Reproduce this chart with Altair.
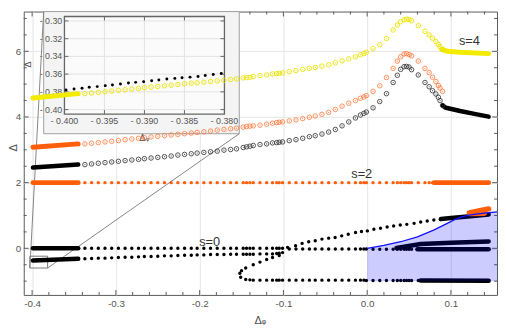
import altair as alt
import pandas as pd

# ---------------- data ----------------
# open-circle branches (x grid shared by the three excited curves)
X_OPEN = [-0.337, -0.329, -0.321, -0.313, -0.305, -0.297, -0.289, -0.281, -0.273, -0.266,
          -0.258, -0.250, -0.242, -0.234, -0.226, -0.218, -0.210, -0.203, -0.195, -0.187,
          -0.179, -0.171, -0.163, -0.156, -0.148, -0.144, -0.140, -0.136, -0.128, -0.120,
          -0.113, -0.108, -0.105, -0.101, -0.093, -0.085, -0.077, -0.069, -0.062, -0.054,
          -0.046, -0.038, -0.030, -0.022, -0.014, -0.008, -0.004, -0.001, 0.007, 0.015,
          0.023, 0.031, 0.036, 0.040, 0.044, 0.047, 0.050, 0.053, 0.061, 0.069,
          0.074, 0.078, 0.082, 0.085, 0.087, 0.090]
Y_YEL_OPEN = [4.71, 4.73, 4.75, 4.77, 4.79, 4.81, 4.83, 4.85, 4.87, 4.89,
              4.91, 4.93, 4.95, 4.97, 4.99, 5.01, 5.03, 5.04, 5.06, 5.08,
              5.10, 5.12, 5.14, 5.16, 5.19, 5.20, 5.21, 5.23, 5.26, 5.28,
              5.31, 5.32, 5.33, 5.34, 5.38, 5.41, 5.45, 5.48, 5.51, 5.55,
              5.59, 5.65, 5.71, 5.77, 5.83, 5.89, 5.93, 5.97, 6.08, 6.20,
              6.39, 6.65, 6.80, 6.90, 6.96, 6.98, 6.97, 6.93, 6.78, 6.61,
              6.50, 6.40, 6.30, 6.21, 6.14, 6.06]
Y_ORA_OPEN = [3.18, 3.20, 3.22, 3.24, 3.26, 3.28, 3.31, 3.33, 3.35, 3.37,
              3.39, 3.41, 3.43, 3.45, 3.47, 3.49, 3.51, 3.53, 3.55, 3.57,
              3.60, 3.62, 3.64, 3.66, 3.69, 3.71, 3.72, 3.73, 3.75, 3.78,
              3.81, 3.83, 3.84, 3.85, 3.88, 3.91, 3.95, 3.99, 4.03, 4.08,
              4.14, 4.23, 4.33, 4.42, 4.50, 4.57, 4.61, 4.65, 4.78, 4.95,
              5.20, 5.48, 5.70, 5.83, 5.92, 5.93, 5.90, 5.86, 5.70, 5.48,
              5.35, 5.21, 5.08, 4.96, 4.88, 4.78]
Y_BLK_OPEN = [2.55, 2.57, 2.59, 2.61, 2.63, 2.65, 2.67, 2.69, 2.71, 2.73,
              2.75, 2.77, 2.79, 2.81, 2.84, 2.86, 2.88, 2.90, 2.92, 2.94,
              2.96, 2.99, 3.01, 3.03, 3.07, 3.09, 3.11, 3.13, 3.16, 3.18,
              3.21, 3.22, 3.23, 3.24, 3.28, 3.31, 3.35, 3.40, 3.43, 3.48,
              3.54, 3.62, 3.73, 3.85, 3.97, 4.06, 4.11, 4.15, 4.28, 4.47,
              4.71, 5.05, 5.27, 5.45, 5.53, 5.54, 5.52, 5.44, 5.28, 5.05,
              4.92, 4.80, 4.70, 4.60, 4.50, 4.35]

# filled-dot branches
X_S2_DOTS = X_OPEN[:62]
Y_S2_DOTS = [2.0] * 62
X_S0_DOTS = X_OPEN[:58]
Y_S0_DOTS = [0.0] * 34 + [-0.02] * 14 + [-0.03] * 10
X_LOW = X_OPEN[:34]
Y_LOW = [-0.32, -0.31, -0.30, -0.30, -0.29, -0.28, -0.27, -0.27, -0.26, -0.25,
         -0.25, -0.24, -0.23, -0.23, -0.22, -0.21, -0.21, -0.20, -0.20, -0.19,
         -0.19, -0.19, -0.18, -0.18, -0.18, -0.18, -0.18, -0.18, -0.17, -0.17,
         -0.17, -0.16, -0.15, -0.13]
X_BOT = X_OPEN[26:59]
Y_BOT = [-0.96] + [-0.97] * 20 + [-0.98] * 12
X_UP = [-0.095, -0.0855, -0.0777, -0.0698, -0.062, -0.054, -0.046, -0.0383, -0.0304, -0.0226,
        -0.0139, -0.0068, 0.0002, 0.008, 0.0159, 0.0238, 0.0316, 0.0395, 0.0473, 0.056,
        0.0639, 0.0717, 0.0796, 0.0874]
Y_UP = [0.03, 0.08, 0.15, 0.20, 0.23, 0.28, 0.31, 0.33, 0.38, 0.43,
        0.48, 0.51, 0.53, 0.58, 0.61, 0.65, 0.68, 0.71, 0.73, 0.76,
        0.80, 0.83, 0.86, 0.88]
X_FOLD = [-0.105, -0.113, -0.120, -0.128, -0.136, -0.145, -0.150, -0.152, -0.151, -0.145]
Y_FOLD = [-0.22, -0.28, -0.34, -0.42, -0.50, -0.60, -0.68, -0.76, -0.88, -0.95]

# densely sampled stretches (drawn as thick strokes)
YEL_THICK = {"l": ([-0.399, -0.345], [4.58, 4.71]),
             "r": ([0.089, 0.096, 0.111, 0.145], [6.06, 6.00, 5.97, 5.93])}
ORA_THICK = {"ol": ([-0.399, -0.345], [3.08, 3.18]),
             "s2l": ([-0.399, -0.345], [2.0, 2.0]),
             "s2r": ([0.080, 0.145], [2.0, 2.0])}
ORA_BLOB = {"a": ([0.122, 0.133, 0.145], [1.08, 1.14, 1.20]),
            "b": ([0.123, 0.140], [1.06, 1.07])}
BLK_THICK = {"ol": ([-0.399, -0.345], [2.46, 2.55]),
             "s0l": ([-0.399, -0.345], [0.0, 0.0]),
             "lowl": ([-0.399, -0.345], [-0.37, -0.32]),
             "or": ([0.090, 0.094, 0.111, 0.131, 0.145], [4.35, 4.28, 4.18, 4.08, 4.01]),
             "s0r": ([0.060, 0.145], [-0.03, -0.03]),
             "mid": ([0.035, 0.064, 0.100, 0.145], [0.01, 0.13, 0.17, 0.21]),
             "botr": ([0.064, 0.145], [-0.98, -0.99]),
             "upr": ([0.088, 0.100, 0.120, 0.145], [0.89, 0.92, 0.97, 1.03])}

# blue boundary curve and shaded region
X_BLUE = [0.0, 0.02, 0.04, 0.06, 0.08, 0.095, 0.105, 0.112, 0.12, 0.13, 0.14, 0.155]
Y_BLUE = [0.0, 0.09, 0.20, 0.35, 0.56, 0.75, 0.88, 0.95, 1.00, 1.04, 1.07, 1.11]
SHADE_BOTTOM = -1.0

# labels
S_TEXT = ["s=4", "s=2", "s=0"]
S_X = [0.122, -0.0065, -0.188]
S_Y = [6.31, 2.26, 0.19]

# inset data
X_IN = [-0.3998, -0.3988, -0.3978, -0.3969, -0.3959, -0.3949, -0.3940, -0.3930, -0.3920, -0.3911,
        -0.3901, -0.3891, -0.3882, -0.3872, -0.3862, -0.3853, -0.3843, -0.3833, -0.3824, -0.3814,
        -0.3804]
Y_IN = [-0.3778, -0.3767, -0.3759, -0.3748, -0.3741, -0.3730, -0.3723, -0.3711, -0.3700, -0.3693,
        -0.3686, -0.3674, -0.3667, -0.3656, -0.3648, -0.3641, -0.3634, -0.3626, -0.3615, -0.3604,
        -0.3593]
IN_XT = [-0.400, -0.395, -0.390, -0.385, -0.380]
IN_YT = [-0.40, -0.38, -0.36, -0.34, -0.32, -0.30]

# main ticks
X_MAJOR = [-0.4, -0.3, -0.2, -0.1, 0.0, 0.1]
X_MINOR = [-0.38, -0.36, -0.34, -0.32, -0.28, -0.26, -0.24, -0.22, -0.18, -0.16, -0.14,
           -0.12, -0.08, -0.06, -0.04, -0.02, 0.02, 0.04, 0.06, 0.08, 0.12, 0.14]
Y_MAJOR = [0, 2, 4, 6]
Y_MINOR = [-1.0, -0.5, 0.5, 1.0, 1.5, 2.5, 3.0, 3.5, 4.5, 5.0, 5.5, 6.5, 7.0]

# ---------------- layout ----------------
W, H = 481, 288
XD = [-0.41, 0.155]
YD = [-1.42, 7.21]
PXX = W / (XD[1] - XD[0])
PXY = H / (YD[1] - YD[0])

# inset placement (in main data coordinates)
IX = [-0.400, -0.380]
IY = [-0.405, -0.295]
MX = [-0.3614, -0.1704]
MY = [4.09, 7.06]
SX = (MX[1] - MX[0]) / (IX[1] - IX[0])
SY = (MY[1] - MY[0]) / (IY[1] - IY[0])
OUT_BOX = dict(x=[-0.3862], x2=[-0.1527], y=[3.49], y2=[7.21])
ZOOM_BOX = dict(x=[-0.4027], x2=[-0.3815], y=[-0.60], y2=[-0.24])
LINKS = dict(x=[-0.4027, -0.3815], y=[-0.60, -0.60], x2=[-0.3862, -0.1527], y2=[7.21, 3.49])


def ex(f):
    return f"{MX[0]} + (datum.{f} - ({IX[0]})) * {SX}"


def ey(f):
    return f"{MY[0]} + (datum.{f} - ({IY[0]})) * {SY}"


XS = alt.Scale(domain=XD, nice=False, zero=False)
YS = alt.Scale(domain=YD, nice=False, zero=False)
GRID = "#e6e6e6"
LAB = "#555555"
XAX = alt.Axis(values=X_MAJOR, labelExpr="replace(format(datum.value, '.1f'), '\u2212', '-')",
               grid=True, gridColor=GRID, ticks=False, domain=False, labelPadding=4,
               labelFont="Liberation Sans", labelFontSize=10, labelColor=LAB,
               title="Δᵩ", titleFont="DejaVu Sans", titleFontSize=11, titleFontWeight="normal",
               titleColor=LAB, titleX=240, titleY=29, titleBaseline="alphabetic")
YAX = alt.Axis(values=Y_MAJOR, format="d", grid=True, gridColor=GRID, ticks=False, domain=False,
               labelPadding=3, labelFont="Liberation Sans", labelFontSize=10, labelColor=LAB,
               title="Δ", titleFont="DejaVu Sans", titleFontSize=11, titleFontWeight="normal",
               titleColor=LAB, titleX=-5, titleY=138, titleAngle=270, titleBaseline="bottom",
               titleAlign="center")


def enc(xf="x", yf="y"):
    return dict(x=alt.X(f"{xf}:Q", scale=XS, axis=XAX), y=alt.Y(f"{yf}:Q", scale=YS, axis=YAX))


def pts(xs, ys):
    return pd.DataFrame({"x": xs, "y": ys})


def segs(d):
    rows = []
    for k, (xs, ys) in d.items():
        for i, (a, b) in enumerate(zip(xs, ys)):
            rows.append({"seg": k, "i": i, "x": a, "y": b})
    return pd.DataFrame(rows)


layers = []

# main ticks (inward, all four sides)
tk = []
for vals, L in ((X_MAJOR, 5), (X_MINOR, 3)):
    for t in vals:
        tk.append(dict(x=t, x2=t, y=YD[0], y2=YD[0] + L / PXY))
        tk.append(dict(x=t, x2=t, y=YD[1], y2=YD[1] - L / PXY))
for vals, L in ((Y_MAJOR, 5), (Y_MINOR, 3)):
    for t in vals:
        tk.append(dict(x=XD[0], x2=XD[0] + L / PXX, y=t, y2=t))
        tk.append(dict(x=XD[1], x2=XD[1] - L / PXX, y=t, y2=t))
layers.append(alt.Chart(pd.DataFrame(tk)).mark_rule(color="#5a5a5a", strokeWidth=1)
              .encode(**enc(), x2="x2:Q", y2="y2:Q"))

# ---- inset ----
layers.append(alt.Chart(pd.DataFrame(OUT_BOX)).mark_rect(fill="#f4f4f4", stroke="#a0a0a0", strokeWidth=1)
              .encode(**enc(), x2="x2:Q", y2="y2:Q"))
inner = pd.DataFrame({"x": [IX[0]], "x2": [IX[1]], "y": [IY[0]], "y2": [IY[1]]})
layers.append(alt.Chart(inner).transform_calculate(mx=ex("x"), mx2=ex("x2"), my=ey("y"), my2=ey("y2"))
              .mark_rect(fill="#fbfbfb").encode(**enc("mx", "my"), x2="mx2:Q", y2="my2:Q"))
ig = [dict(x=t, x2=t, y=IY[0], y2=IY[1]) for t in IN_XT] + \
     [dict(x=IX[0], x2=IX[1], y=t, y2=t) for t in IN_YT]
layers.append(alt.Chart(pd.DataFrame(ig)).transform_calculate(mx=ex("x"), mx2=ex("x2"), my=ey("y"), my2=ey("y2"))
              .mark_rule(color="#e2e2e2", strokeWidth=1).encode(**enc("mx", "my"), x2="mx2:Q", y2="my2:Q"))
itk = []
for t in IN_XT:
    itk.append(dict(x=t, x2=t, y=IY[0], y2=IY[0] + 4 / (SY * PXY)))
    itk.append(dict(x=t, x2=t, y=IY[1], y2=IY[1] - 4 / (SY * PXY)))
for t in IN_YT:
    itk.append(dict(x=IX[0], x2=IX[0] + 4 / (SX * PXX), y=t, y2=t))
    itk.append(dict(x=IX[1], x2=IX[1] - 4 / (SX * PXX), y=t, y2=t))
layers.append(alt.Chart(pd.DataFrame(itk)).transform_calculate(mx=ex("x"), mx2=ex("x2"), my=ey("y"), my2=ey("y2"))
              .mark_rule(color="#666", strokeWidth=1).encode(**enc("mx", "my"), x2="mx2:Q", y2="my2:Q"))
layers.append(alt.Chart(inner).transform_calculate(mx=ex("x"), mx2=ex("x2"), my=ey("y"), my2=ey("y2"))
              .mark_rect(fillOpacity=0, stroke="#666", strokeWidth=1.3)
              .encode(**enc("mx", "my"), x2="mx2:Q", y2="my2:Q"))
ixl = pd.DataFrame({"x": IN_XT, "t": [f"- {abs(v):.3f}" for v in IN_XT]})
layers.append(alt.Chart(ixl).transform_calculate(mx=ex("x"), my="3.88")
              .mark_text(font="Liberation Sans", fontSize=9, color=LAB, baseline="middle", align="center")
              .encode(**enc("mx", "my"), text="t:N"))
iyl = pd.DataFrame({"y": IN_YT, "t": [f"- {abs(v):.2f}" for v in IN_YT]})
layers.append(alt.Chart(iyl).transform_calculate(mx="-0.3640", my=ey("y"))
              .mark_text(font="Liberation Sans", fontSize=9, color=LAB, baseline="middle", align="right")
              .encode(**enc("mx", "my"), text="t:N"))
layers.append(alt.Chart(pd.DataFrame({"x": [-0.2659], "y": [3.37], "t": ["Δᵩ"]}))
              .mark_text(font="DejaVu Sans", fontSize=9, color=LAB, baseline="middle")
              .encode(**enc(), text="t:N"))
layers.append(alt.Chart(pd.DataFrame({"x": [-0.4045], "y": [5.6], "t": ["Δ"]}))
              .mark_text(font="DejaVu Sans", fontSize=9, color=LAB, baseline="middle", angle=270)
              .encode(**enc(), text="t:N"))
layers.append(alt.Chart(pts(X_IN, Y_IN)).transform_calculate(mx=ex("x"), my=ey("y"))
              .mark_circle(size=9, color="black", opacity=1).encode(**enc("mx", "my")))

# zoom box + connectors
layers.append(alt.Chart(pd.DataFrame(ZOOM_BOX)).mark_rect(fillOpacity=0, stroke="#777", strokeWidth=1)
              .encode(**enc(), x2="x2:Q", y2="y2:Q"))
layers.append(alt.Chart(pd.DataFrame(LINKS)).mark_rule(color="#777", strokeWidth=0.9)
              .encode(**enc(), x2="x2:Q", y2="y2:Q"))

# ---- main data ----
YEL, ORA, BLK = "#f3ec00", "#ff5f0a", "#000000"


def thick(d, color, w=5):
    return alt.Chart(segs(d)).mark_line(color=color, strokeWidth=w, strokeCap="round", strokeJoin="round") \
        .encode(**enc(), detail="seg:N", order="i:Q")


def dots(xs, ys, color, size=12):
    return alt.Chart(pts(xs, ys)).mark_circle(size=size, color=color, opacity=1).encode(**enc())


def rings(xs, ys, color, op):
    ring = alt.Chart(pts(xs, ys)).mark_point(shape="circle", filled=False, size=21, strokeWidth=1,
                                             color=color, opacity=op).encode(**enc())
    cen = alt.Chart(pts(xs, ys)).mark_circle(size=1.5, color=color, opacity=op).encode(**enc())
    return [ring, cen]


layers.append(thick(YEL_THICK, YEL))
layers.append(thick(ORA_THICK, ORA))
layers.append(thick(BLK_THICK, BLK, 4.6))
layers += rings(X_OPEN, Y_YEL_OPEN, "#ebe300", 0.9)
layers += rings(X_OPEN, Y_ORA_OPEN, "#ff6a25", 0.75)
layers += rings(X_OPEN, Y_BLK_OPEN, "#333333", 0.85)
layers.append(dots(X_S2_DOTS, Y_S2_DOTS, ORA))
layers.append(dots(X_S0_DOTS, Y_S0_DOTS, BLK))
layers.append(dots(X_LOW, Y_LOW, BLK))
layers.append(dots(X_BOT, Y_BOT, BLK))
layers.append(dots(X_UP, Y_UP, BLK))
layers.append(dots(X_FOLD, Y_FOLD, BLK))

# shaded region over the dots, then blue curve
blue = pts(X_BLUE, Y_BLUE)
layers.append(alt.Chart(blue).mark_area(color="#0000ff", opacity=0.2)
              .encode(**enc(), y2=alt.datum(SHADE_BOTTOM)))
layers.append(thick(ORA_BLOB, ORA, 5.5))
layers.append(alt.Chart(blue).mark_line(color="#1010ff", strokeWidth=1.3).encode(**enc()))

# annotations
layers.append(alt.Chart(pd.DataFrame({"x": S_X, "y": S_Y, "t": S_TEXT}))
              .mark_text(font="Liberation Sans", fontSize=13, color="#333", baseline="middle", align="center")
              .encode(**enc(), text="t:N"))

chart = alt.LayerChart(layer=layers).properties(
    width=W, height=H,
    autosize=alt.AutoSizeParams(type="none"),
    padding={"left": 16, "top": 1, "right": 1, "bottom": 33},
    background="white",
).configure_view(stroke="#5a5a5a", strokeWidth=1)

chart.save("out.html", embed_options={"renderer": "svg", "actions": False})
